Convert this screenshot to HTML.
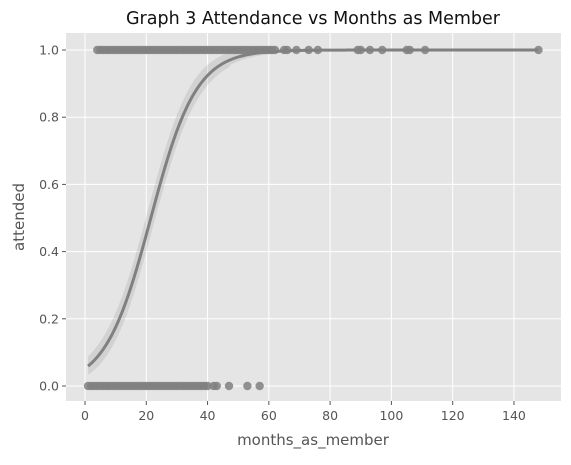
<!DOCTYPE html>
<html><head><meta charset="utf-8"><style>
body{margin:0;background:#fff;font-family:"Liberation Sans","DejaVu Sans",sans-serif}
svg text{font-family:"DejaVu Sans","Liberation Sans",sans-serif}
</style></head><body>
<svg id="chart" width="571" height="460">
<text x="313" y="24" font-size="17.5" text-anchor="middle" fill="#111">Graph 3 Attendance vs Months as Member</text>
<rect x="66" y="33" width="495" height="368" fill="#e5e5e5"/>
<g id="grid"></g>
<g id="band"></g>
<g id="pts"></g>
<g id="fit"></g>
<g id="axes"></g>
<text x="313" y="445" font-size="15" text-anchor="middle" fill="#555">months_as_member</text>
<text x="24" y="217" font-size="15" text-anchor="middle" fill="#555" transform="rotate(-90 24 217)">attended</text>
</svg>
<script>
const xTicks=[0,20,40,60,80,100,120,140];
const yTicks=[0,0.2,0.4,0.6,0.8,1.0];
const attendedMonths=[4,5,6,7,8,9,10,11,12,13,14,15,16,17,18,19,20,21,22,23,24,25,26,27,28,29,30,31,32,33,34,35,36,37,38,39,40,41,42,43,44,45,46,47,48,49,50,51,52,53,54,55,56,57,58,59,60,61,62,65,66,69,73,76,89,90,93,97,105,106,111,148];
const missedMonths=[1,2,3,4,5,6,7,8,9,10,11,12,13,14,15,16,17,18,19,20,21,22,23,24,25,26,27,28,29,30,31,32,33,34,35,36,37,38,39,40,42,43,47,53,57];
const fitIntercept=-2.9;
const fitSlope=0.135;
const NS="http://www.w3.org/2000/svg";
const X=v=>85+v*3.064, Y=v=>386-v*336;
function mk(t,a,p){const e=document.createElementNS(NS,t);for(const k in a)e.setAttribute(k,a[k]);p.appendChild(e);return e;}
const grid=document.getElementById('grid'),axes=document.getElementById('axes');
xTicks.forEach(t=>{
 const l=mk('line',{x1:X(t),x2:X(t),y1:33,y2:401,stroke:'#fff','stroke-width':1},grid);
 
 mk('line',{x1:X(t),x2:X(t),y1:401,y2:405,stroke:'#555'},axes);
 const tx=mk('text',{x:X(t),y:420,'font-size':12.5,'text-anchor':'middle',fill:'#555'},axes);tx.textContent=t;
 
});
yTicks.forEach(t=>{
 const l=mk('line',{x1:66,x2:561,y1:Y(t),y2:Y(t),stroke:'#fff','stroke-width':1},grid);
 
 mk('line',{x1:62,x2:66,y1:Y(t),y2:Y(t),stroke:'#555'},axes);
 const tx=mk('text',{x:59,y:Y(t)+4.5,'font-size':12.5,'text-anchor':'end',fill:'#555'},axes);tx.textContent=t.toFixed(1);
 
});
const p=x=>1/(1+Math.exp(-(fitIntercept+fitSlope*x)));
let up=[],lo=[],ln=[];
for(let x=1;x<=148;x+=0.5){const v=p(x),w=0.09*Math.sqrt(v*(1-v))+0.005*(v>0.97?0:1);ln.push(X(x)+','+Y(v));up.push(X(x)+','+Y(Math.min(1,v+w*1.1)));lo.push(X(x)+','+Y(Math.max(0,v-w)));}
const band=mk('polygon',{points:up.concat(lo.reverse()).join(' '),fill:'#808080','fill-opacity':0.18},document.getElementById('band'));

const pts=document.getElementById('pts');
attendedMonths.forEach(m=>{const c=mk('circle',{cx:X(m),cy:Y(1),r:4.2,fill:'#808080','fill-opacity':0.85},pts);});
missedMonths.forEach(m=>{const c=mk('circle',{cx:X(m),cy:Y(0),r:4.2,fill:'#808080','fill-opacity':0.85},pts);});
const pl=mk('polyline',{points:ln.join(' '),fill:'none',stroke:'#808080','stroke-width':3},document.getElementById('fit'));

</script>
</body></html>
